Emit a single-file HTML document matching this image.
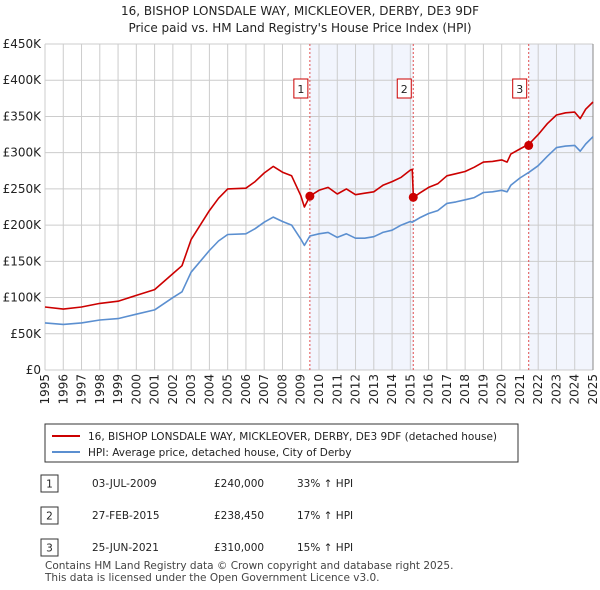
<!DOCTYPE html>
<html><head><meta charset="utf-8"><style>
body{margin:0;background:#fff;font-family:"DejaVu Sans","Liberation Sans",sans-serif;}
svg{display:block}
</style></head><body>
<svg width="600" height="590" xmlns="http://www.w3.org/2000/svg" id="svg" font-family="DejaVu Sans, Liberation Sans, sans-serif">
<text x="300" y="15" text-anchor="middle" font-size="12" fill="#222">16, BISHOP LONSDALE WAY, MICKLEOVER, DERBY, DE3 9DF</text>
<text x="300" y="32" text-anchor="middle" font-size="12" fill="#222">Price paid vs. HM Land Registry's House Price Index (HPI)</text>
<g id="plot"></g>
<g>
<rect x="45" y="424" width="473" height="38" fill="#fff" stroke="#333"/>
<line x1="52" y1="436" x2="80" y2="436" stroke="#cc0000" stroke-width="2"/>
<text x="88" y="440" font-size="10.5" fill="#222">16, BISHOP LONSDALE WAY, MICKLEOVER, DERBY, DE3 9DF (detached house)</text>
<line x1="52" y1="452" x2="80" y2="452" stroke="#5b8fd0" stroke-width="2"/>
<text x="88" y="456" font-size="10.5" fill="#222">HPI: Average price, detached house, City of Derby</text>
</g>
<g font-size="10.5" fill="#222">
<rect x="41" y="475" width="17" height="17" fill="#fff" stroke="#333"/><text x="49.5" y="487.5" text-anchor="middle">1</text>
<text x="92" y="487">03-JUL-2009</text><text x="214" y="487">£240,000</text><text x="297" y="487">33% ↑ HPI</text>
<rect x="41" y="507" width="17" height="17" fill="#fff" stroke="#333"/><text x="49.5" y="519.5" text-anchor="middle">2</text>
<text x="92" y="519">27-FEB-2015</text><text x="214" y="519">£238,450</text><text x="297" y="519">17% ↑ HPI</text>
<rect x="41" y="539" width="17" height="17" fill="#fff" stroke="#333"/><text x="49.5" y="551.5" text-anchor="middle">3</text>
<text x="92" y="551">25-JUN-2021</text><text x="214" y="551">£310,000</text><text x="297" y="551">15% ↑ HPI</text>
</g>
<text x="45" y="569" font-size="10.5" fill="#444">Contains HM Land Registry data © Crown copyright and database right 2025.</text>
<text x="45" y="581" font-size="10.5" fill="#444">This data is licensed under the Open Government Licence v3.0.</text>
</svg>
<script>
const years=[1995,1996,1997,1998,1999,2000,2001,2002,2002.5,2003,2004,2004.5,2005,2006,2006.5,2007,2007.5,2008,2008.5,2009,2009.2,2009.5,2010,2010.5,2011,2011.5,2012,2012.5,2013,2013.5,2014,2014.5,2015,2015.1,2015.17,2015.5,2016,2016.5,2017,2017.5,2018,2018.5,2019,2019.5,2020,2020.3,2020.5,2021,2021.5,2022,2022.5,2023,2023.5,2024,2024.3,2024.6,2025];
const hpiValues=[65,63,65,69,71,77,83,100,108,135,165,178,187,188,195,204,211,205,200,181,172,185,188,190,183,188,182,182,184,190,193,200,205,204,205,210,216,220,230,232,235,238,245,246,248,246,255,265,273,282,295,307,309,310,302,312,322];
const propValues=[87,84,87,92,95,103,111,133,144,180,220,237,250,251,260,272,281,273,268,241,225,240,248,252,243,250,242,244,246,255,260,266,276,277,238,244,252,257,268,271,274,280,287,288,290,287,298,305,312,325,340,352,355,356,347,360,370];
const saleYears=[2009.5,2015.16,2021.48];
const salePrices=[240,238.45,310];
const saleLabels=["1","2","3"];
const yTicks=[0,50,100,150,200,250,300,350,400,450];
const yTickLabels=["£0","£50K","£100K","£150K","£200K","£250K","£300K","£350K","£400K","£450K"];
const xTicks=[1995,1996,1997,1998,1999,2000,2001,2002,2003,2004,2005,2006,2007,2008,2009,2010,2011,2012,2013,2014,2015,2016,2017,2018,2019,2020,2021,2022,2023,2024,2025];
const X0=45,X1=593,Y0=370,Y1=44;
const xs=v=>X0+(v-1995)/30*(X1-X0);
const ys=v=>Y0-v/450*(Y0-Y1);
const NS="http://www.w3.org/2000/svg";
const g=document.getElementById('plot');
function mk(t,a){const e=document.createElementNS(NS,t);for(const k in a)e.setAttribute(k,a[k]);g.appendChild(e);return e;}
[[saleYears[0],saleYears[1]],[saleYears[2],2025]].forEach((r,i)=>{
 const e=mk('rect',{x:xs(r[0]),y:Y1,width:xs(r[1])-xs(r[0]),height:Y0-Y1,fill:'#f2f5fd'});
 
 
});
yTicks.forEach((t,i)=>{
 const l=mk('line',{x1:X0,x2:X1,y1:ys(t),y2:ys(t),stroke:'#ccc','stroke-width':1});
 
 
 const tx=mk('text',{x:X0-4,y:ys(t)+4,'text-anchor':'end','font-size':12,fill:'#222'});
 tx.textContent=yTickLabels[i];
 
 
});
xTicks.forEach(t=>{
 const l=mk('line',{x1:xs(t),x2:xs(t),y1:Y1,y2:Y0,stroke:'#ccc','stroke-width':1});
 
 
 const tx=mk('text',{x:0,y:0,'text-anchor':'end','font-size':12,fill:'#222',transform:`translate(${xs(t)+4},374) rotate(-90)`});
 tx.textContent=t;
 
 
});
const ax=mk('line',{x1:X1,x2:X1,y1:Y1,y2:Y0,stroke:'#888','stroke-width':1});


saleYears.forEach((s,i)=>{
 const l=mk('line',{x1:xs(s),x2:xs(s),y1:Y1,y2:Y0,stroke:'#e05050','stroke-width':1,'stroke-dasharray':'2,2'});
 
 
});
function path(vals,col,name){
 const d=years.map((y,i)=>(i?'L':'M')+xs(y).toFixed(1)+','+ys(vals[i]).toFixed(1)).join('');
 const p=mk('path',{d,fill:'none',stroke:col,'stroke-width':1.6,'stroke-linejoin':'round'});
 
 
}
path(hpiValues,'#5b8fd0','hpi-line');
path(propValues,'#cc0000','property-line');
saleYears.forEach((s,i)=>{
 const c=mk('circle',{cx:xs(s),cy:ys(salePrices[i]),r:4.5,fill:'#cc0000'});
 
 
 const b=mk('rect',{x:xs(s)-16,y:79,width:14,height:19,fill:'#fff',stroke:'#cc0000'});
 
 
 const t=mk('text',{x:xs(s)-9,y:93,'text-anchor':'middle','font-size':11,fill:'#222'});
 t.textContent=saleLabels[i];
 
 
});
</script>
</body></html>
